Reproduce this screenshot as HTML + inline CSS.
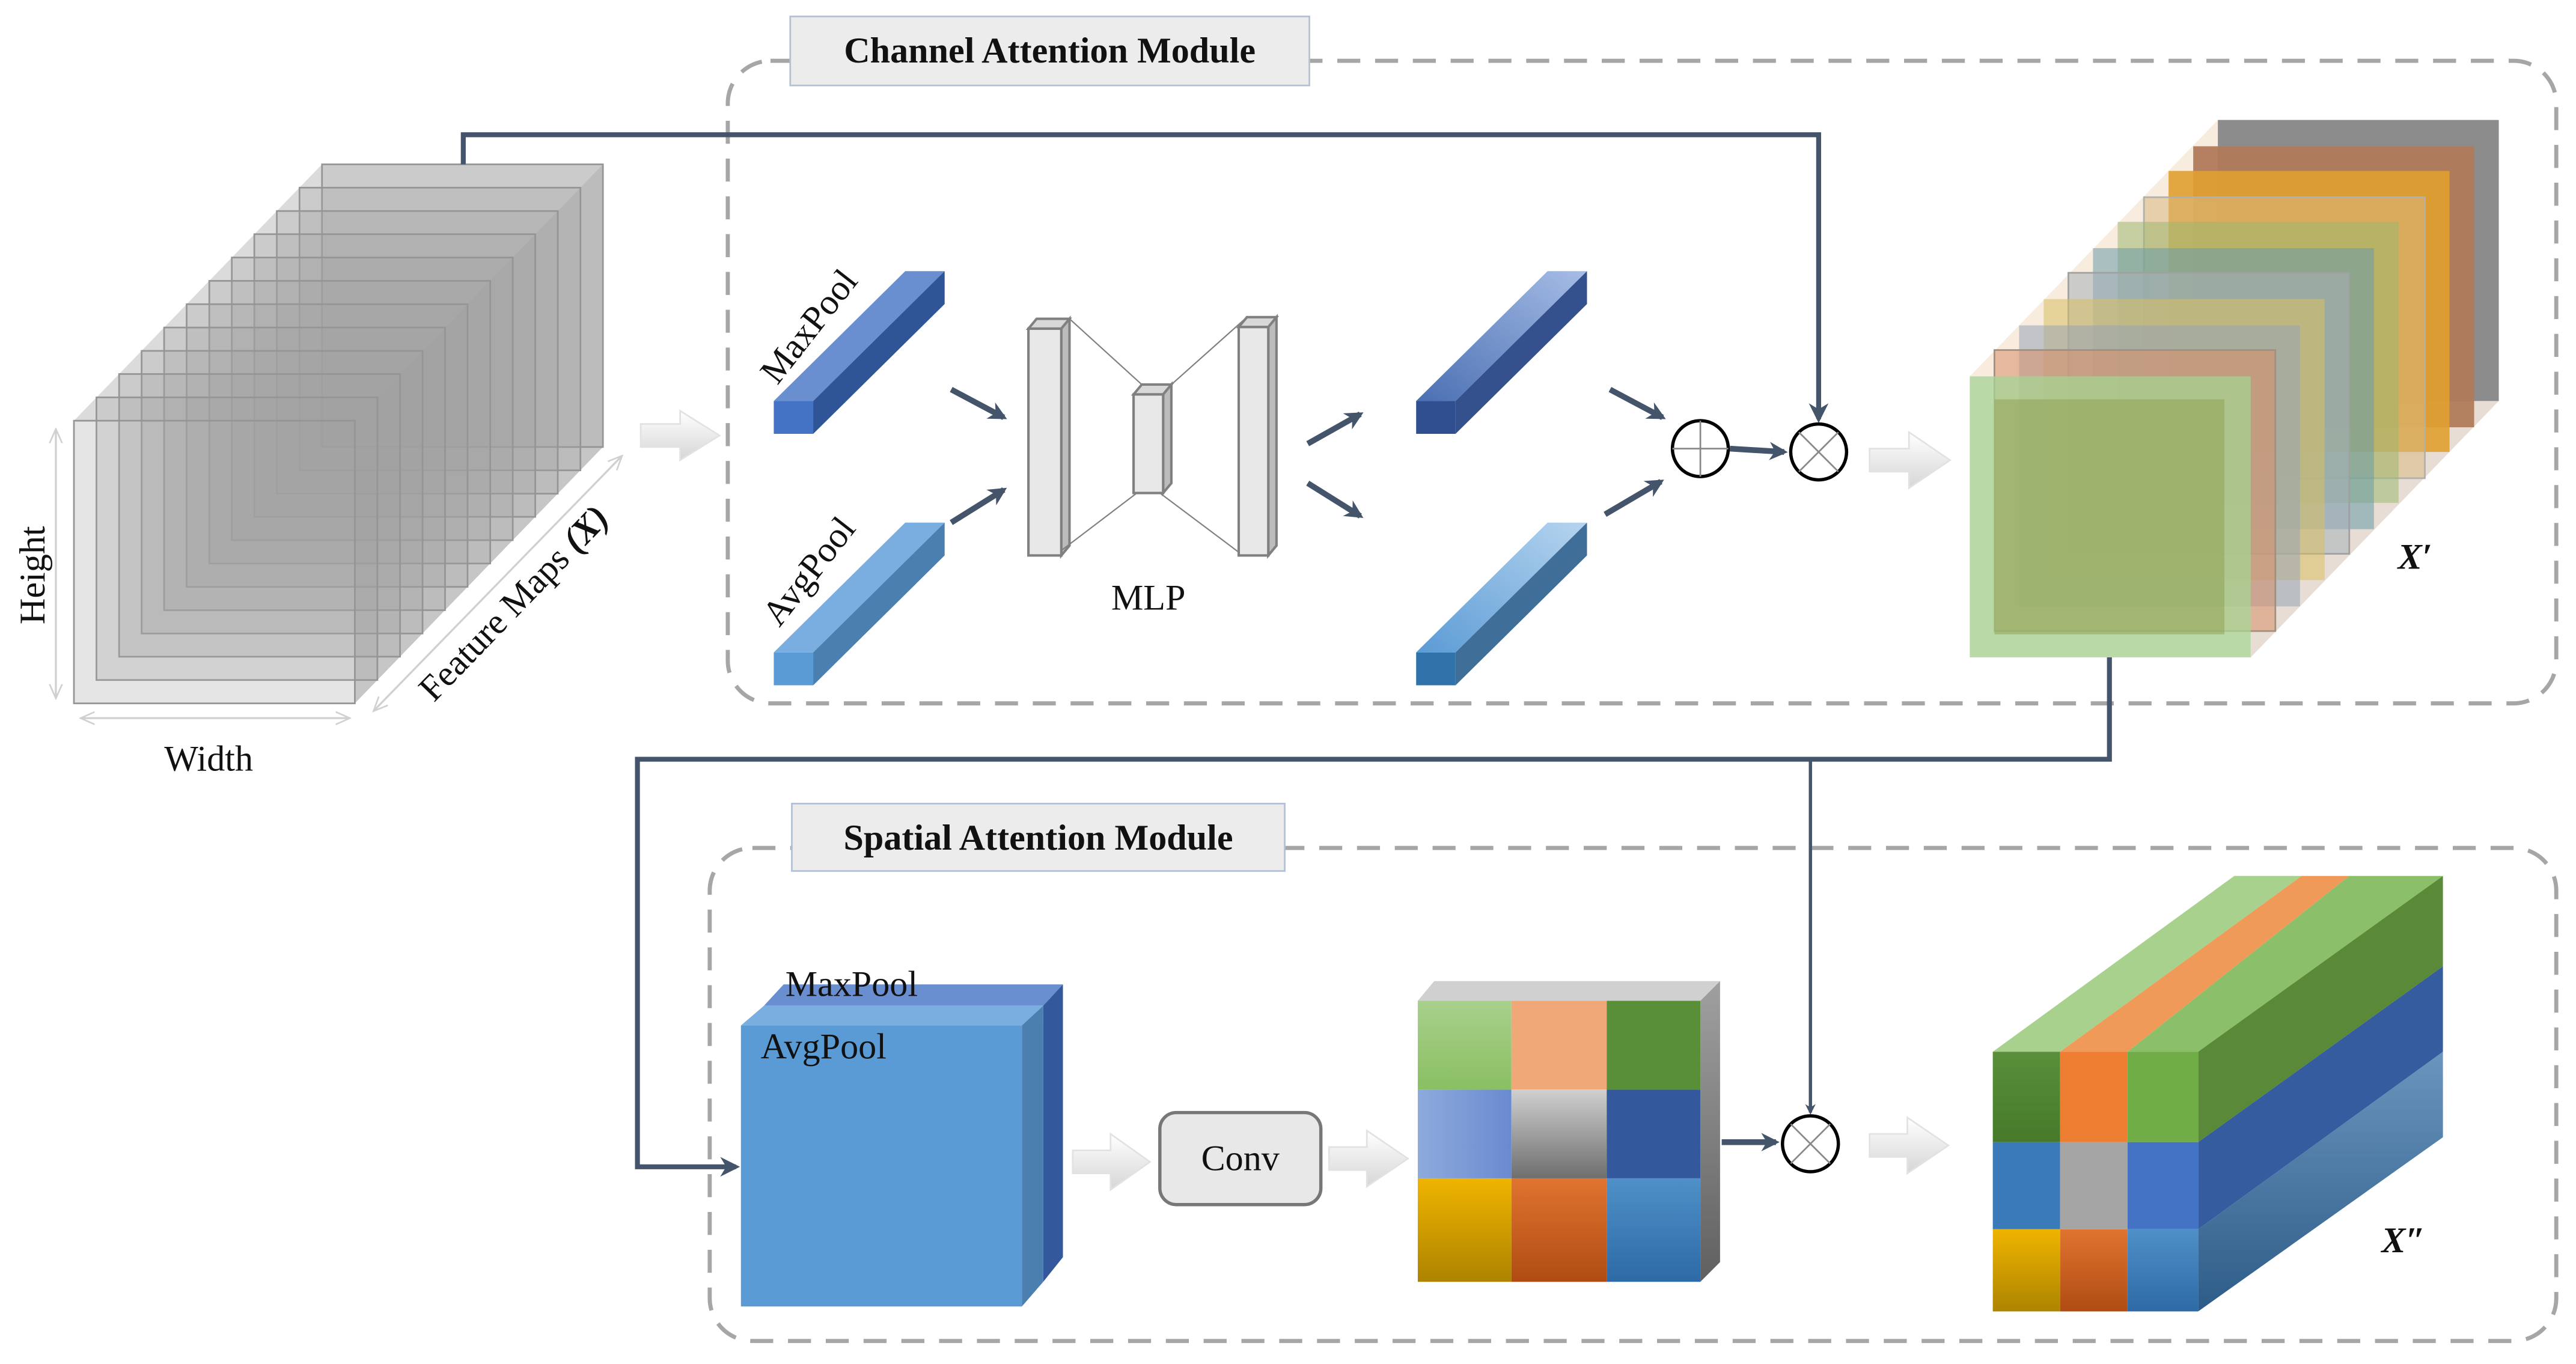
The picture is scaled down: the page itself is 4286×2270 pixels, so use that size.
<!DOCTYPE html>
<html><head><meta charset="utf-8"><style>
html,body{margin:0;padding:0;background:#fff;}
svg{display:block;}
text{font-family:"Liberation Serif",serif;fill:#111;}
</style></head><body>
<svg width="4286" height="2270" viewBox="0 0 1568 830" preserveAspectRatio="none" xmlns="http://www.w3.org/2000/svg">
<defs>
<linearGradient id="ha" x1="0" y1="0" x2="0" y2="1"><stop offset="0" stop-color="#ffffff"/><stop offset="1" stop-color="#d6d6d6"/></linearGradient>
<marker id="ah" viewBox="0 0 10 10" refX="8" refY="5" markerWidth="4" markerHeight="4" orient="auto"><path d="M0,0 L10,5 L0,10 L3,5 z" fill="#44546a"/></marker>
<marker id="ah2" viewBox="0 0 10 10" refX="8" refY="5" markerWidth="3.2" markerHeight="3.2" orient="auto"><path d="M0,0 L10,5 L0,10 L3,5 z" fill="#44546a"/></marker>
<marker id="la" viewBox="0 0 10 10" refX="8" refY="5" markerWidth="8" markerHeight="8" orient="auto-start-reverse"><path d="M0,1 L9,5 L0,9" fill="none" stroke="#d0d0d0" stroke-width="1"/></marker>
<linearGradient id="gA" x1="0" y1="0" x2="0" y2="1"><stop offset="0" stop-color="#a8d08d"/><stop offset="1" stop-color="#8abf62"/></linearGradient>
<linearGradient id="gB" x1="0" y1="0" x2="0" y2="1"><stop offset="0" stop-color="#d0d0d0"/><stop offset="1" stop-color="#6e6e6e"/></linearGradient>
<linearGradient id="gC" x1="0" y1="0" x2="0" y2="1"><stop offset="0" stop-color="#efb400"/><stop offset="1" stop-color="#ad8400"/></linearGradient>
<linearGradient id="gD" x1="0" y1="0" x2="0" y2="1"><stop offset="0" stop-color="#e07430"/><stop offset="1" stop-color="#b04c12"/></linearGradient>
<linearGradient id="gE" x1="0" y1="0" x2="0" y2="1"><stop offset="0" stop-color="#4f90c8"/><stop offset="1" stop-color="#2d6aa6"/></linearGradient>
<linearGradient id="gF" x1="0" y1="0" x2="1" y2="0"><stop offset="0" stop-color="#8eaadc"/><stop offset="1" stop-color="#6a8ad0"/></linearGradient>
<linearGradient id="gG" x1="0" y1="0" x2="0" y2="1"><stop offset="0" stop-color="#a0a0a0"/><stop offset="1" stop-color="#606060"/></linearGradient>
<linearGradient id="gH" x1="0" y1="0" x2="0" y2="1"><stop offset="0" stop-color="#5a8f3a"/><stop offset="1" stop-color="#467a2a"/></linearGradient>
<linearGradient id="gI" x1="0" y1="0" x2="0" y2="1"><stop offset="0" stop-color="#6a95bd"/><stop offset="1" stop-color="#2d5c88"/></linearGradient>
<linearGradient id="gJ" x1="1" y1="0" x2="0" y2="1"><stop offset="0" stop-color="#a6bde6"/><stop offset="1" stop-color="#4a6fb2"/></linearGradient>
<linearGradient id="gK" x1="1" y1="0" x2="0" y2="1"><stop offset="0" stop-color="#b6d4ef"/><stop offset="1" stop-color="#5b9bd5"/></linearGradient>
</defs>

<rect x="443" y="37" width="1113" height="391" rx="26" fill="none" stroke="#a6a6a6" stroke-width="2.5" stroke-dasharray="14,9"/>
<rect x="432" y="516" width="1124" height="300" rx="26" fill="none" stroke="#a6a6a6" stroke-width="2.5" stroke-dasharray="14,9"/>
<rect x="481" y="10" width="316" height="42" fill="#ececec" stroke="#b4c0d4" stroke-width="1"/>
<text x="639" y="38" font-size="22" font-weight="bold" text-anchor="middle">Channel Attention Module</text>
<rect x="482" y="489" width="300" height="41" fill="#ececec" stroke="#b4c0d4" stroke-width="1"/>
<text x="632" y="517" font-size="22" font-weight="bold" text-anchor="middle">Spatial Attention Module</text>

<polygon points="45,256 196,100 367,100 216,256" fill="#cccccc" opacity="0.7"/>
<polygon points="216,256 367,100 367,272 216,428" fill="#a0a0a0" opacity="0.6"/>
<g fill="#a0a0a0" fill-opacity="0.28" stroke="#959595" stroke-width="1">
<rect x="196" y="100" width="171" height="172"/>
<rect x="182.3" y="114.2" width="171" height="172"/>
<rect x="168.5" y="128.4" width="171" height="172"/>
<rect x="154.8" y="142.5" width="171" height="172"/>
<rect x="141.1" y="156.7" width="171" height="172"/>
<rect x="127.4" y="170.9" width="171" height="172"/>
<rect x="113.6" y="185.1" width="171" height="172"/>
<rect x="99.9" y="199.3" width="171" height="172"/>
<rect x="86.2" y="213.5" width="171" height="172"/>
<rect x="72.5" y="227.6" width="171" height="172"/>
<rect x="58.7" y="241.8" width="171" height="172"/>
<rect x="45" y="256" width="171" height="172"/>
</g>
<line x1="34" y1="262" x2="34" y2="424" stroke="#d0d0d0" stroke-width="1.2" marker-start="url(#la)" marker-end="url(#la)"/>
<line x1="50" y1="437" x2="212" y2="437" stroke="#d0d0d0" stroke-width="1.2" marker-start="url(#la)" marker-end="url(#la)"/>
<line x1="228" y1="432" x2="378" y2="278" stroke="#d0d0d0" stroke-width="1.2" marker-start="url(#la)" marker-end="url(#la)"/>
<text transform="translate(27,350) rotate(-90)" font-size="22" text-anchor="middle">Height</text>
<text x="127" y="469" font-size="22" text-anchor="middle">Width</text>
<text transform="translate(318,372) rotate(-46)" font-size="22" text-anchor="middle">Feature Maps <tspan font-weight="bold" font-style="italic">(X)</tspan></text>

<polyline points="282,100 282,82 1107,82 1107,255" fill="none" stroke="#44546a" stroke-width="3" marker-end="url(#ah)"/>

<g fill="url(#ha)" stroke="#e2e2e2" stroke-width="1">
<polygon points="390,258 414,258 414,250 438,265 414,280 414,272 390,272"/>
<polygon points="1138,273 1162,273 1162,263 1187,280 1162,297 1162,287 1138,287"/>
<polygon points="653,700 676,700 676,690 700,707 676,724 676,714 653,714"/>
<polygon points="809,698 832,698 832,688 857,705 832,722 832,712 809,712"/>
<polygon points="1138,690 1161,690 1161,680 1186,697 1161,714 1161,704 1138,704"/>
</g>

<polygon points="471,244 495,244 575,165 551,165" fill="#6a8fd0"/>
<polygon points="495,244 495,264 575,185 575,165" fill="#2f5597"/>
<rect x="471" y="244" width="24" height="20" fill="#4472c4"/>
<polygon points="471,397 495,397 575,318 551,318" fill="#7aaee0"/>
<polygon points="495,397 495,417 575,338 575,318" fill="#4a7fb0"/>
<rect x="471" y="397" width="24" height="20" fill="#5b9bd5"/>
<text transform="translate(498,203) rotate(-52)" font-size="22" text-anchor="middle">MaxPool</text>
<text transform="translate(498,352) rotate(-52)" font-size="22" text-anchor="middle">AvgPool</text>

<g stroke="#44546a" stroke-width="3.5" marker-end="url(#ah2)">
<line x1="579" y1="237" x2="611" y2="254"/>
<line x1="579" y1="318" x2="611" y2="298"/>
<line x1="796" y1="270" x2="828" y2="252"/>
<line x1="796" y1="294" x2="828" y2="314"/>
<line x1="980" y1="237" x2="1012" y2="254"/>
<line x1="977" y1="313" x2="1011" y2="293"/>
<line x1="1053" y1="273" x2="1086" y2="275"/>
<line x1="1048" y1="695" x2="1081" y2="695"/>
</g>

<g stroke="#808080" stroke-width="1.5">
<polygon points="626,200 631,194 651,194 646,200" fill="#d8d8d8"/>
<polygon points="646,200 651,194 651,332 646,338" fill="#bcbcbc"/>
<rect x="626" y="200" width="20" height="138" fill="#e8e8e8"/>
<polygon points="690,240 695,234 713,234 708,240" fill="#d8d8d8"/>
<polygon points="708,240 713,234 713,294 708,300" fill="#bcbcbc"/>
<rect x="690" y="240" width="18" height="60" fill="#e8e8e8"/>
<polygon points="754,199 759,193 777,193 772,199" fill="#d8d8d8"/>
<polygon points="772,199 777,193 777,332 772,338" fill="#bcbcbc"/>
<rect x="754" y="199" width="18" height="139" fill="#e8e8e8"/>
</g>
<g stroke="#808080" stroke-width="0.8">
<line x1="651" y1="194" x2="695" y2="234"/><line x1="646" y1="335" x2="692" y2="300"/>
<line x1="713" y1="234" x2="759" y2="193"/><line x1="706" y1="300" x2="754" y2="336"/>
</g>
<text x="699" y="371" font-size="22" text-anchor="middle">MLP</text>

<polygon points="862,244 886,244 966,165 942,165" fill="url(#gJ)"/>
<polygon points="886,244 886,264 966,185 966,165" fill="#34518e"/>
<rect x="862" y="244" width="24" height="20" fill="#2f4f8f"/>
<polygon points="862,397 886,397 966,318 942,318" fill="url(#gK)"/>
<polygon points="886,397 886,417 966,338 966,318" fill="#3f6e98"/>
<rect x="862" y="397" width="24" height="20" fill="#3072aa"/>

<circle cx="1035" cy="273" r="17" fill="#fff" stroke="#000" stroke-width="2"/>
<line x1="1018" y1="273" x2="1052" y2="273" stroke="#888" stroke-width="1"/><line x1="1035" y1="256" x2="1035" y2="290" stroke="#888" stroke-width="1"/>
<circle cx="1107" cy="275" r="17" fill="#fff" stroke="#000" stroke-width="2"/>
<line x1="1095" y1="263" x2="1119" y2="287" stroke="#888"/><line x1="1119" y1="263" x2="1095" y2="287" stroke="#888"/>

<polygon points="1199,229 1350,73 1521,73 1370,229" fill="#e8c8a0" opacity="0.35"/>
<polygon points="1370,229 1521,73 1521,244 1370,400" fill="#b09070" opacity="0.3"/>
<g fill-opacity="0.55" stroke-width="1">
<rect x="1350" y="73" width="171" height="171" fill="#8c8c8c" fill-opacity="1"/>
<rect x="1335" y="89" width="171" height="171" fill="#b07a5a" fill-opacity="0.95"/>
<rect x="1320" y="104" width="171" height="171" fill="#e0a030" fill-opacity="0.9"/>
<rect x="1305" y="120" width="171" height="171" fill="#d8b880" stroke="#b0b0b0"/>
<rect x="1289" y="135" width="171" height="171" fill="#9cb870"/>
<rect x="1274" y="151" width="171" height="171" fill="#6a9aa8"/>
<rect x="1259" y="166" width="171" height="171" fill="#a8b0b8" stroke="#a0a0a0"/>
<rect x="1244" y="182" width="171" height="171" fill="#d8c060"/>
<rect x="1229" y="198" width="171" height="171" fill="#98a4b4"/>
<rect x="1214" y="213" width="171" height="171" fill="#d8906a" stroke="#a09080"/>
<rect x="1199" y="229" width="171" height="171" fill="#a8d090" fill-opacity="0.8"/>
</g>
<rect x="1214" y="243" width="140" height="143" fill="#8c9a48" opacity="0.45"/>
<text x="1470" y="346" font-size="22" font-style="italic" font-weight="bold" text-anchor="middle">X′</text>

<polyline points="1284,400 1284,462 388,462 388,710 448,710" fill="none" stroke="#44546a" stroke-width="3" marker-end="url(#ah)"/>
<polyline points="1102,462 1102,677" fill="none" stroke="#44546a" stroke-width="2" marker-end="url(#ah2)"/>

<polygon points="465,612 477,599 647,599 635,612" fill="#6a8fd0"/>
<polygon points="451,624 465,612 635,612 622,624" fill="#7aaee0"/>
<polygon points="635,612 647,599 647,765 635,780" fill="#34589c"/>
<polygon points="622,624 635,612 635,780 622,795" fill="#4a7fb0"/>
<rect x="451" y="624" width="171" height="171" fill="#5b9bd5"/>
<text x="478" y="606" font-size="22">MaxPool</text>
<text x="463" y="644" font-size="22">AvgPool</text>

<rect x="706" y="677" width="98" height="56" rx="10" fill="#e8e8e8" stroke="#777" stroke-width="2"/>
<text x="755" y="712" font-size="22" text-anchor="middle">Conv</text>

<polygon points="863,609 873,597 1047,597 1035,609" fill="#d0d0d0"/>
<polygon points="1035,609 1047,597 1047,768 1035,780" fill="url(#gG)"/>
<rect x="863" y="609" width="57" height="54" fill="url(#gA)"/>
<rect x="920" y="609" width="58" height="54" fill="#f1a878"/>
<rect x="978" y="609" width="57" height="54" fill="#5a8f3a"/>
<rect x="863" y="663" width="57" height="54" fill="url(#gF)"/>
<rect x="920" y="663" width="58" height="54" fill="url(#gB)"/>
<rect x="978" y="663" width="57" height="54" fill="#34589c"/>
<rect x="863" y="717" width="57" height="63" fill="url(#gC)"/>
<rect x="920" y="717" width="58" height="63" fill="url(#gD)"/>
<rect x="978" y="717" width="57" height="63" fill="url(#gE)"/>

<circle cx="1102" cy="696" r="17" fill="#fff" stroke="#000" stroke-width="2"/>
<line x1="1090" y1="684" x2="1114" y2="708" stroke="#888"/><line x1="1114" y1="684" x2="1090" y2="708" stroke="#888"/>

<polygon points="1213,640 1360,533 1401,533 1254,640" fill="#a9d18e"/>
<polygon points="1254,640 1401,533 1430,533 1295,640" fill="#f09a5a"/>
<polygon points="1295,640 1430,533 1487,533 1338,640" fill="#8cbf6a"/>
<polygon points="1338,640 1487,533 1487,588 1338,695" fill="#5a8a38"/>
<polygon points="1338,695 1487,588 1487,640 1338,748" fill="#355c9e"/>
<polygon points="1338,748 1487,640 1487,692 1338,798" fill="url(#gI)"/>
<rect x="1213" y="640" width="41" height="55" fill="url(#gH)"/>
<rect x="1254" y="640" width="41" height="55" fill="#ed7d31"/>
<rect x="1295" y="640" width="43" height="55" fill="#70ad47"/>
<rect x="1213" y="695" width="41" height="53" fill="#3a7ab8"/>
<rect x="1254" y="695" width="41" height="53" fill="#a5a5a5"/>
<rect x="1295" y="695" width="43" height="53" fill="#4472c4"/>
<rect x="1213" y="748" width="41" height="50" fill="url(#gC)"/>
<rect x="1254" y="748" width="41" height="50" fill="url(#gD)"/>
<rect x="1295" y="748" width="43" height="50" fill="url(#gE)"/>
<text x="1463" y="762" font-size="22" font-style="italic" font-weight="bold" text-anchor="middle">X″</text>
</svg>
</body></html>
